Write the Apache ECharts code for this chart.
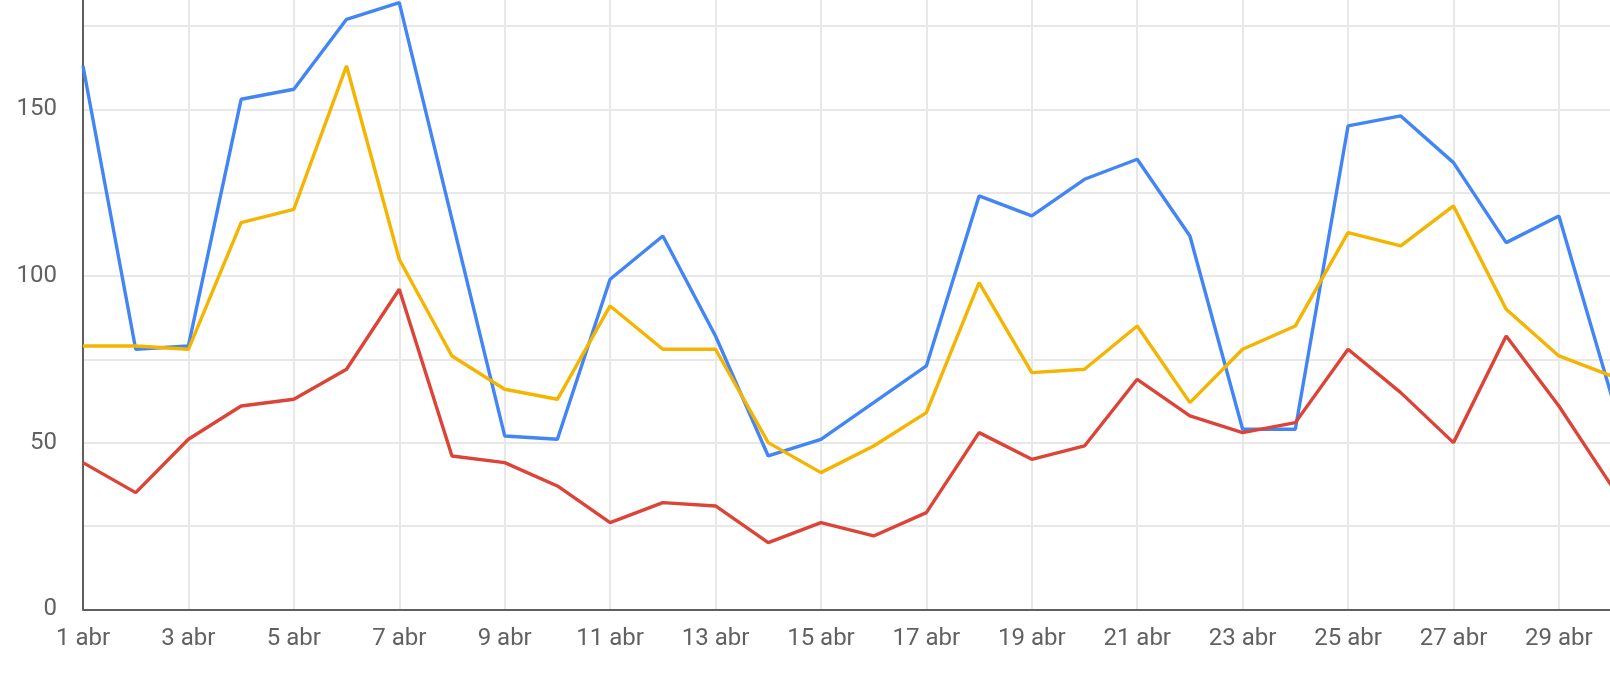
<!DOCTYPE html>
<html>
<head>
<meta charset="utf-8">
<script src="https://cdn.jsdelivr.net/npm/echarts@6/dist/echarts.min.js"></script>
<style>
  html, body { margin: 0; padding: 0; background: #fff; }
  #chart { width: 1610px; height: 673px; }
</style>
</head>
<body>
<div id="chart"></div>
<script>
// dias de abril
var days = ['1 abr', '2 abr', '3 abr', '4 abr', '5 abr', '6 abr', '7 abr', '8 abr', '9 abr', '10 abr',
    '11 abr', '12 abr', '13 abr', '14 abr', '15 abr', '16 abr', '17 abr', '18 abr', '19 abr', '20 abr',
    '21 abr', '22 abr', '23 abr', '24 abr', '25 abr', '26 abr', '27 abr', '28 abr', '29 abr', '30 abr'];

// series
var blueValues = [163, 78, 79, 153, 156, 177, 182, 117, 52, 51,
    99, 112, 82, 46, 51, 62, 73, 124, 118, 129,
    135, 112, 54, 54, 145, 148, 134, 110, 118, 64];
var yellowValues = [79, 79, 78, 116, 120, 163, 105, 76, 66, 63,
    91, 78, 78, 50, 41, 49, 59, 98, 71, 72,
    85, 62, 78, 85, 113, 109, 121, 90, 76, 70];
var redValues = [44, 35, 51, 61, 63, 72, 96, 46, 44, 37,
    26, 32, 31, 20, 26, 22, 29, 53, 45, 49,
    69, 58, 53, 56, 78, 65, 50, 82, 61, 37];

// etiquetas del eje y
var yTickLabels = [0, 50, 100, 150];

var colors = ['#4285f4', '#f4b400', '#db4437'];

function makeLine(data, color) {
    return {
        type: 'line',
        data: data,
        symbol: 'none',
        smooth: false,
        lineStyle: { color: color, width: 3.4 },
        itemStyle: { color: color }
    };
}

var chart = echarts.init(document.getElementById('chart'));
var option = {
    animation: false,
    grid: {
        left: 83,
        right: -1.6,
        top: -57.4,
        bottom: 63.7,
        containLabel: false,
        outerBoundsMode: 'none'
    },
    xAxis: {
        type: 'category',
        data: days,
        boundaryGap: false,
        axisLine: { show: true, lineStyle: { color: '#5f5f5f', width: 2 } },
        axisTick: { show: false },
        axisLabel: {
            interval: 1,
            color: '#616161',
            fontFamily: 'Roboto',
            fontSize: 24,
            margin: 18
        },
        splitLine: {
            show: true,
            interval: 1,
            lineStyle: { color: '#e8e8e8', width: 2 }
        }
    },
    yAxis: {
        type: 'value',
        min: 0,
        max: 200,
        interval: 25,
        axisLine: { show: true, lineStyle: { color: '#5f5f5f', width: 2 } },
        axisTick: { show: false },
        axisLabel: {
            color: '#616161',
            fontFamily: 'Roboto',
            fontSize: 24,
            margin: 26,
            formatter: function (v) {
                return yTickLabels.indexOf(v) >= 0 ? String(v) : '';
            }
        },
        splitLine: { lineStyle: { color: '#e8e8e8', width: 2 } }
    },
    series: [
        makeLine(blueValues, colors[0]),
        makeLine(yellowValues, colors[1]),
        makeLine(redValues, colors[2])
    ]
};
chart.setOption(option);
</script>
</body>
</html>
